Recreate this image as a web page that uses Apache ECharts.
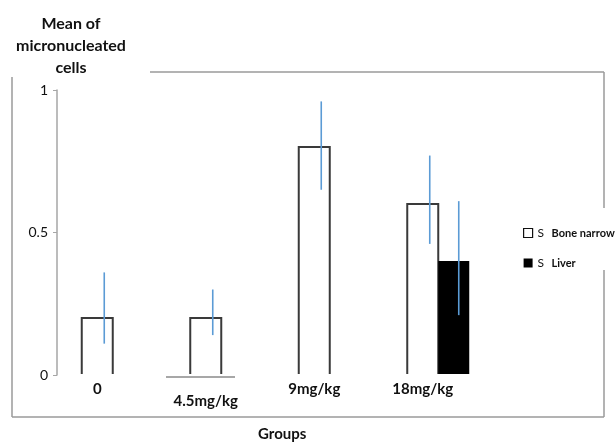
<!DOCTYPE html>
<html><head><meta charset="utf-8">
<script src="https://cdn.jsdelivr.net/npm/echarts@6/dist/echarts.min.js"></script>
<style>html,body{margin:0;padding:0;background:#fff}#c{width:616px;height:443px}</style>
</head><body><div id="c"></div>
<script>
const categories = ['0', '4.5mg/kg', '9mg/kg', '18mg/kg'];
const boneMean = [0.2, 0.2, 0.8, 0.6];
const boneLow = [0.11, 0.14, 0.65, 0.46];
const boneHigh = [0.36, 0.30, 0.96, 0.77];
const liverMean = [null, null, null, 0.4];
const liverLow = [null, null, null, 0.21];
const liverHigh = [null, null, null, 0.61];
const yTicks = [0, 0.5, 1];
const seriesNames = ['Bone narrow', 'Liver'];

const FONT = 'Lato';
const BAR_W = 31;
const LIVER_SHIFT = 31;

function rows(mean, lo, hi) {
  const out = [];
  mean.forEach((m, i) => { if (m !== null) out.push([i, m, lo[i], hi[i]]); });
  return out;
}

const chart = echarts.init(document.getElementById('c'), null, {renderer: 'canvas'});
chart.setOption({
  backgroundColor: '#fff',
  animation: false,
  title: {
    text: 'Mean of\nmicronucleated\ncells',
    left: 66, top: 8, textAlign: 'center',
    textStyle: {fontFamily: FONT, fontWeight: 'bold', fontSize: 16, lineHeight: 22, color: '#111'}
  },
  legend: {
    orient: 'vertical', left: 518, top: 222, itemWidth: 9, itemHeight: 9, itemGap: 18,
    selectedMode: false,
    data: [
      {name: seriesNames[0], icon: 'rect', itemStyle: {color: '#fff', borderColor: '#111', borderWidth: 1.2}},
      {name: seriesNames[1], icon: 'rect', itemStyle: {color: '#000', borderColor: '#000', borderWidth: 0}}
    ],
    formatter: n => '{s|S}{n|' + n + '}',
    textStyle: {
      rich: {
        s: {fontFamily: FONT, fontSize: 12, color: '#111', width: 14},
        n: {fontFamily: FONT, fontSize: 11, fontWeight: 'bold', color: '#111'}
      }
    }
  },
  grid: {left: 43, right: 139, top: 90, bottom: 68},
  xAxis: {
    type: 'category', data: categories,
    axisLine: {show: false}, axisTick: {show: false},
    axisLabel: {
      interval: 0, hideOverlap: false,
      margin: 7, fontFamily: FONT, fontWeight: 'bold', fontSize: 15, color: '#111',
      formatter: (v) => v === '4.5mg/kg' ? '{d|' + v + '}' : v,
      rich: {d: {fontFamily: FONT, fontWeight: 'bold', fontSize: 15, color: '#111', padding: [12, 0, 0, 0]}}
    }
  },
  yAxis: {
    type: 'value', min: 0, max: 1, interval: 0.5, offset: -14,
    axisLine: {show: true, lineStyle: {color: '#a6a6a6', width: 1.5}},
    axisTick: {show: true, length: 4, lineStyle: {color: '#a6a6a6'}},
    splitLine: {show: false},
    axisLabel: {margin: 9, fontFamily: FONT, fontSize: 14, color: '#111',
      formatter: v => yTicks.indexOf(v) >= 0 ? String(v) : ''}
  },
  series: [
    {
      name: seriesNames[0], type: 'custom',
      data: rows(boneMean, boneLow, boneHigh),
      renderItem: (params, api) => {
        const top = api.coord([api.value(0), api.value(1)]);
        const base = api.coord([api.value(0), 0]);
        const l = top[0] - BAR_W / 2, r = top[0] + BAR_W / 2;
        return {type: 'polyline', shape: {points: [[l, base[1] - 1], [l, top[1]], [r, top[1]], [r, base[1] - 1]]},
          style: {stroke: '#3a3a3a', lineWidth: 2, fill: null}};
      }
    },
    {
      name: seriesNames[1], type: 'custom',
      data: rows(liverMean, liverLow, liverHigh),
      renderItem: (params, api) => {
        const top = api.coord([api.value(0), api.value(1)]);
        const base = api.coord([api.value(0), 0]);
        const cx = top[0] + LIVER_SHIFT;
        return {type: 'rect', shape: {x: cx - BAR_W / 2, y: top[1], width: BAR_W, height: base[1] - 1 - top[1]},
          style: {fill: '#000'}};
      }
    },
    {
      name: 'boneErr', type: 'custom', z: 5,
      data: rows(boneMean, boneLow, boneHigh),
      renderItem: (params, api) => {
        const lo = api.coord([api.value(0), api.value(2)]);
        const hi = api.coord([api.value(0), api.value(3)]);
        const x = lo[0] + 7;
        return {type: 'line', shape: {x1: x, y1: lo[1], x2: x, y2: hi[1]}, style: {stroke: '#5b9bd5', lineWidth: 1.6}};
      }
    },
    {
      name: 'liverErr', type: 'custom', z: 5,
      data: rows(liverMean, liverLow, liverHigh),
      renderItem: (params, api) => {
        const lo = api.coord([api.value(0), api.value(2)]);
        const hi = api.coord([api.value(0), api.value(3)]);
        const x = lo[0] + LIVER_SHIFT + 5;
        return {type: 'line', shape: {x1: x, y1: lo[1], x2: x, y2: hi[1]}, style: {stroke: '#5b9bd5', lineWidth: 1.6}};
      }
    }
  ],
  graphic: [
    {type: 'line', shape: {x1: 150, y1: 72, x2: 604, y2: 72}, style: {stroke: '#9a9a9a', lineWidth: 1.5}},
    {type: 'line', shape: {x1: 12, y1: 77, x2: 12, y2: 417}, style: {stroke: '#9a9a9a', lineWidth: 1.5}},
    {type: 'line', shape: {x1: 12, y1: 417, x2: 604, y2: 417}, style: {stroke: '#9a9a9a', lineWidth: 1.5}},
    {type: 'line', shape: {x1: 604, y1: 72, x2: 604, y2: 208}, style: {stroke: '#9a9a9a', lineWidth: 1.5}},
    {type: 'line', shape: {x1: 604, y1: 270, x2: 604, y2: 417}, style: {stroke: '#9a9a9a', lineWidth: 1.5}},
    {type: 'line', shape: {x1: 166, y1: 377, x2: 235, y2: 377}, style: {stroke: '#8a8a8a', lineWidth: 1.5}},
    {type: 'text', left: 258, top: 427, style: {text: 'Groups', fontFamily: FONT, fontWeight: 'bold', fontSize: 15, fill: '#111'}}
  ]
});
</script></body></html>
